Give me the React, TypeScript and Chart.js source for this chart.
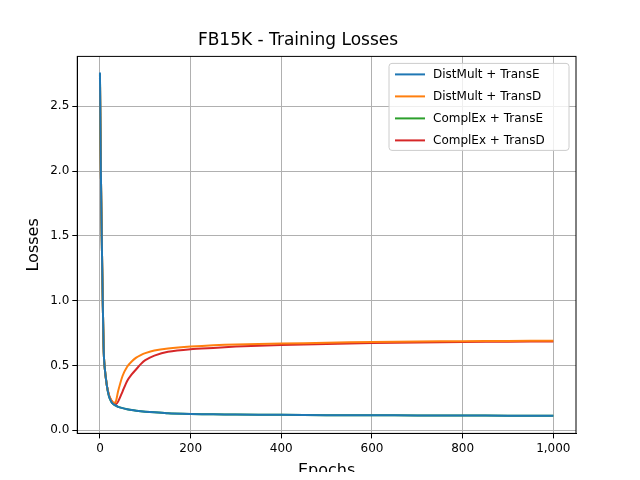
import { useEffect, useRef } from 'react';
import Chart from 'chart.js/auto';

const epochs = [0, 2, 5, 8, 10, 15, 20, 25, 30, 35, 40, 50, 60, 70, 80, 90, 100, 120, 150, 200, 250, 300, 400, 500, 600, 700, 800, 900, 1000];
const distmultTransE = [2.76, 2.0, 1.25, 0.65, 0.5, 0.35, 0.26, 0.22, 0.2, 0.19, 0.18, 0.17, 0.162, 0.155, 0.15, 0.146, 0.143, 0.138, 0.13, 0.125, 0.122, 0.12, 0.118, 0.116, 0.115, 0.114, 0.113, 0.112, 0.111];
const distmultTransD = [2.74, 2.0, 1.25, 0.65, 0.5, 0.35, 0.27, 0.23, 0.21, 0.22, 0.3, 0.42, 0.49, 0.53, 0.56, 0.58, 0.595, 0.615, 0.63, 0.645, 0.655, 0.662, 0.668, 0.675, 0.68, 0.684, 0.687, 0.689, 0.69];
const complexTransE = [2.75, 2.0, 1.25, 0.65, 0.5, 0.35, 0.26, 0.22, 0.2, 0.19, 0.18, 0.17, 0.162, 0.155, 0.15, 0.146, 0.143, 0.138, 0.13, 0.125, 0.122, 0.12, 0.118, 0.116, 0.115, 0.114, 0.113, 0.112, 0.111];
const complexTransD = [2.72, 2.0, 1.25, 0.65, 0.5, 0.35, 0.27, 0.23, 0.21, 0.2, 0.22, 0.3, 0.38, 0.43, 0.47, 0.51, 0.54, 0.575, 0.605, 0.625, 0.635, 0.645, 0.657, 0.665, 0.672, 0.677, 0.68, 0.683, 0.685];

const seriesNames = ['DistMult + TransE', 'DistMult + TransD', 'ComplEx + TransE', 'ComplEx + TransD'];
const seriesValues = [distmultTransE, distmultTransD, complexTransE, complexTransD];
const colors = ['#1f77b4', '#ff7f0e', '#2ca02c', '#d62728'];
const FONT = 'DejaVu Sans';

// frame around plot + matplotlib-like legend box in upper right
const framePlugin = {
    id: 'frame',
    afterDraw(chart: any) {
        const { ctx, chartArea: a } = chart;
        ctx.save();
        ctx.strokeStyle = '#000';
        ctx.lineWidth = 1;
        ctx.strokeRect(a.left, a.top, a.right - a.left, a.bottom - a.top);
        const w = 180, h = 87;
        const x = a.right - 7 - w, y = a.top + 7;
        ctx.fillStyle = 'rgba(255,255,255,0.8)';
        ctx.strokeStyle = '#cccccc';
        ctx.beginPath();
        ctx.roundRect(x, y, w, h, 3);
        ctx.fill();
        ctx.stroke();
        ctx.font = `12px ${FONT}`;
        ctx.textBaseline = 'middle';
        chart.data.datasets.forEach((d: any, i: number) => {
            const cy = y + 11 + i * 22;
            ctx.strokeStyle = d.borderColor;
            ctx.lineWidth = 2;
            ctx.beginPath();
            ctx.moveTo(x + 6, cy);
            ctx.lineTo(x + 36, cy);
            ctx.stroke();
            ctx.fillStyle = '#000';
            ctx.fillText(d.label, x + 44, cy);
        });
        ctx.restore();
    },
};

const App = () => {
    const chartRef = useRef<HTMLCanvasElement | null>(null);

    useEffect(() => {
        if (!chartRef.current) return;
        const chart = new Chart(chartRef.current, {
            type: 'line',
            data: {
                datasets: seriesNames.map((name, i) => ({
                    label: name,
                    data: epochs.map((e, j) => ({ x: e, y: seriesValues[i][j] })),
                    borderColor: colors[i],
                    backgroundColor: colors[i],
                    borderWidth: 2,
                    pointRadius: 0,
                    tension: 0.2,
                })),
            },
            options: {
                animation: false,
                responsive: false,
                layout: { padding: { left: 20, right: 64, top: 10, bottom: 0 } },
                plugins: {
                    title: { display: true, text: 'FB15K - Training Losses', color: '#000', font: { family: FONT, size: 17, weight: 'normal' }, padding: { top: 20, bottom: 6 } },
                    legend: { display: false },
                },
                scales: {
                    x: {
                        type: 'linear', min: -50, max: 1050,
                        ticks: { color: '#000', font: { family: FONT, size: 12 } },
                        afterBuildTicks: (a: any) => { a.ticks = [0, 200, 400, 600, 800, 1000].map(v => ({ value: v })); },
                        grid: { color: '#b0b0b0', tickColor: '#000', tickLength: 5 },
                        border: { color: '#000' },
                        title: { display: true, text: 'Epochs', color: '#000', font: { family: FONT, size: 16 }, padding: { top: 2, bottom: 0 } },
                    },
                    y: {
                        min: -0.025, max: 2.885,
                        afterBuildTicks: (a: any) => { a.ticks = [0, 0.5, 1, 1.5, 2, 2.5].map(v => ({ value: v })); },
                        ticks: { color: '#000', font: { family: FONT, size: 12 }, callback: (v: any) => Number(v).toFixed(1) },
                        grid: { color: '#b0b0b0', tickColor: '#000', tickLength: 5 },
                        border: { color: '#000' },
                        title: { display: true, text: 'Losses', color: '#000', font: { family: FONT, size: 16 } },
                    },
                },
            },
            plugins: [framePlugin],
        });
        return () => chart.destroy();
    }, []);

    return <canvas ref={chartRef} width={640} height={480} style={{ display: 'block', margin: -8 }} />;
};

export default App;
